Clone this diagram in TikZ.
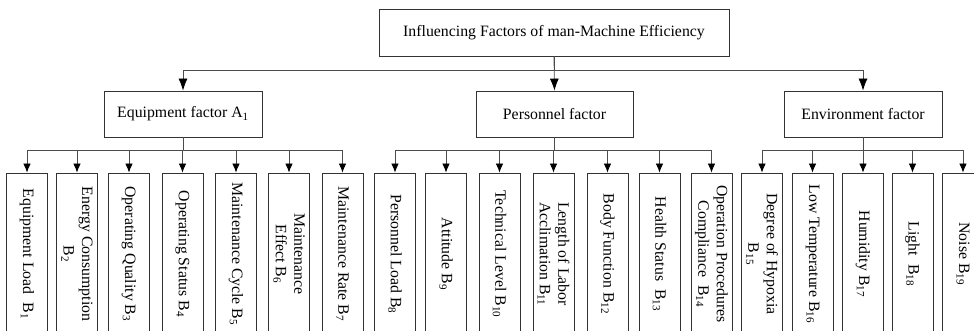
\documentclass[tikz,border=0pt]{standalone}
\usepackage{fontspec}
\setmainfont{Liberation Serif}
\usetikzlibrary{arrows.meta}
\tikzset{
  factorbox/.style={rectangle, draw=black!80, line width=0.8pt, minimum width=#1, minimum height=46pt,
                    align=center, font=\fontsize{15.8}{18.5}\selectfont},
  leafbox/.style={rectangle, draw=black!80, line width=0.8pt, rotate=-90, minimum width=162pt,
                  minimum height=41pt, inner sep=1pt, align=center, font=\fontsize{15.8}{18.5}\selectfont},
  arr/.style={-{Latex[length=9pt,width=7.5pt,black]}, line width=0.8pt, draw=black!70},
  toparr/.style={-{Latex[length=12pt,width=9pt,black]}, line width=0.8pt, draw=black!70},
}

\begin{document}
\begin{tikzpicture}[x=1pt, y=1pt]
\clip (0,0) rectangle (974,-331);
\node[factorbox=350pt, minimum height=47pt] (root) at (554,-32.5) {Influencing Factors of man-Machine Efficiency};
\node[factorbox=158pt] (fa1) at (183,-114) {Equipment factor A\textsubscript{1}};
\node[factorbox=157pt] (fp) at (554.5,-114) {Personnel factor};
\node[factorbox=158pt] (fe) at (863,-114) {Environment factor};
\draw[toparr] (root.south) -- ++(0,-14) -| (fa1.north);
\draw[toparr] (root.south) -- (fp.north);
\draw[toparr] (root.south) -- ++(0,-14) -| (fe.north);
% equipment
\node[leafbox] (b1) at (27,-254) {Equipment Load\ \ B\textsubscript{1}};
\node[leafbox] (b2) at (77,-254) {Energy Consumption\\B\textsubscript{2}};
\node[leafbox] (b3) at (129,-254) {Operating Quality B\textsubscript{3}};
\node[leafbox] (b4) at (182.5,-254) {Operating Status B\textsubscript{4}};
\node[leafbox] (b5) at (236,-254) {Maintenance Cycle B\textsubscript{5}};
\node[leafbox] (b6) at (289,-254) {Maintenance\\Effect B\textsubscript{6}};
\node[leafbox] (b7) at (342.5,-254) {Maintenance Rate B\textsubscript{7}};
% personnel
\node[leafbox] (b8) at (395,-254) {Personnel Load B\textsubscript{8}};
\node[leafbox] (b9) at (446,-254) {Attitude B\textsubscript{9}};
\node[leafbox] (b10) at (499.5,-254) {Technical Level B\textsubscript{10}};
\node[leafbox] (b11) at (553.5,-254) {Length of Labor\\Acclimation B\textsubscript{11}};
\node[leafbox] (b12) at (607.5,-254) {Body Function B\textsubscript{12}};
\node[leafbox] (b13) at (659.5,-254) {Health Status\ \ B\textsubscript{13}};
\node[leafbox] (b14) at (711.5,-254) {Operation Procedures\\Compliance\ \ B\textsubscript{14}};
% environment
\node[leafbox] (b15) at (762,-254) {Degree of Hypoxia\\B\textsubscript{15}};
\node[leafbox] (b16) at (812.5,-254) {Low Temperature B\textsubscript{16}};
\node[leafbox] (b17) at (863,-254) {Humidity B\textsubscript{17}};
\node[leafbox] (b18) at (912.5,-254) {Light\ \ B\textsubscript{18}};
\node[leafbox] (b19) at (963,-254) {Noise B\textsubscript{19}};
\draw[arr] (fa1.south) -- ++(0,-13) -| (b1.west);
\draw[arr] (fa1.south) -- ++(0,-13) -| (b2.west);
\draw[arr] (fa1.south) -- ++(0,-13) -| (b3.west);
\draw[arr] (fa1.south) -- ++(0,-13) -| (b4.west);
\draw[arr] (fa1.south) -- ++(0,-13) -| (b5.west);
\draw[arr] (fa1.south) -- ++(0,-13) -| (b6.west);
\draw[arr] (fa1.south) -- ++(0,-13) -| (b7.west);
\draw[arr] (fp.south) -- ++(0,-13) -| (b8.west);
\draw[arr] (fp.south) -- ++(0,-13) -| (b9.west);
\draw[arr] (fp.south) -- ++(0,-13) -| (b10.west);
\draw[arr] (fp.south) -- ++(0,-13) -| (b11.west);
\draw[arr] (fp.south) -- ++(0,-13) -| (b12.west);
\draw[arr] (fp.south) -- ++(0,-13) -| (b13.west);
\draw[arr] (fp.south) -- ++(0,-13) -| (b14.west);
\draw[arr] (fe.south) -- ++(0,-13) -| (b15.west);
\draw[arr] (fe.south) -- ++(0,-13) -| (b16.west);
\draw[arr] (fe.south) -- ++(0,-13) -| (b17.west);
\draw[arr] (fe.south) -- ++(0,-13) -| (b18.west);
\draw[arr] (fe.south) -- ++(0,-13) -| (b19.west);
\end{tikzpicture}
\end{document}
